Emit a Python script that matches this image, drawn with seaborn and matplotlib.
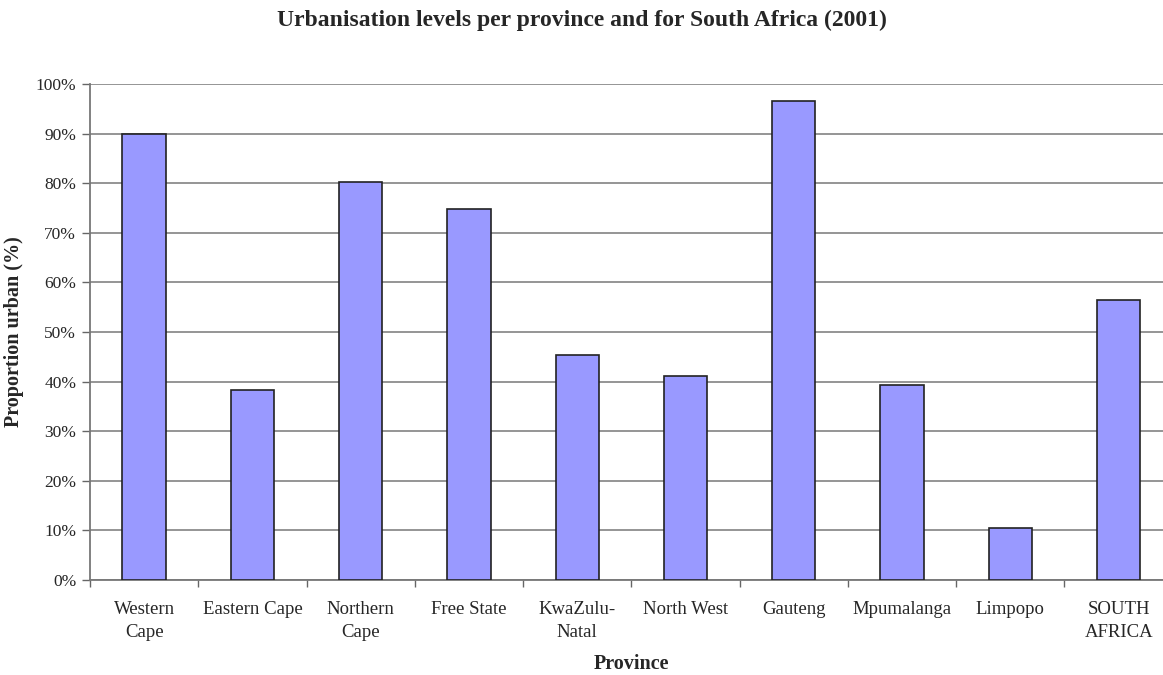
import matplotlib
matplotlib.use("Agg")
import matplotlib.pyplot as plt
import matplotlib.ticker as mticker
import seaborn as sns
import pandas as pd
import numpy as np

provinces = ["Western Cape", "Eastern Cape", "Northern Cape", "Free State",
             "KwaZulu-Natal", "North West", "Gauteng", "Mpumalanga",
             "Limpopo", "SOUTH AFRICA"]
tick_labels = ["Western\nCape", "Eastern Cape", "Northern\nCape", "Free State",
               "KwaZulu-\nNatal", "North West", "Gauteng", "Mpumalanga",
               "Limpopo", "SOUTH\nAFRICA"]
urban_pct = [89.9, 38.3, 80.2, 74.8, 45.4, 41.1, 96.6, 39.3, 10.5, 56.5]

sns.set_theme(style="white")
plt.rcParams["font.family"] = ["Liberation Serif", "DejaVu Serif"]

df = pd.DataFrame({"Province": provinces, "Urban": urban_pct})

fig = plt.figure(figsize=(11.63, 6.75), dpi=100)
ax = fig.add_axes([0.0774, 0.1407, 0.931, 0.7348])

sns.barplot(data=df, x="Province", y="Urban", ax=ax, width=0.4,
            color="#9999FF", saturation=1, edgecolor="#222222", linewidth=1.2,
            zorder=3)

ax.set_ylim(0, 100)
ax.set_xlim(-0.5, len(provinces) - 0.5)
ax.yaxis.set_major_locator(mticker.MultipleLocator(10))
ax.yaxis.set_major_formatter(mticker.FuncFormatter(lambda v, p: f"{v:.0f}%"))
ax.grid(axis="y", color="#8c8c8c", linewidth=1.3, zorder=0)
ax.set_axisbelow(True)

ax.set_xticks(range(len(provinces)))
ax.set_xticklabels(tick_labels, fontsize=13.5, linespacing=1.5)
ax.set_xticks(np.arange(-0.5, len(provinces), 1.0), minor=True)
ax.tick_params(axis="x", which="major", length=0, pad=15)
ax.tick_params(axis="x", which="minor", length=5, width=1, color="#666666",
               direction="out", bottom=True)
ax.tick_params(axis="y", length=6, width=1, color="#666666", direction="out",
               left=True, labelsize=12.5, pad=4)

for side in ["top", "right"]:
    ax.spines[side].set_visible(False)
for side in ["left", "bottom"]:
    ax.spines[side].set_color("#777777")
    ax.spines[side].set_linewidth(1.3)

ax.set_xlabel("Province", fontsize=14.5, fontweight="bold", labelpad=9)
ax.set_ylabel("Proportion urban (%)", fontsize=14.5, fontweight="bold", labelpad=8)
fig.suptitle("Urbanisation levels per province and for South Africa (2001)",
             fontsize=17, fontweight="bold", x=0.5, y=0.985)

fig.savefig("out.png", dpi=100)
